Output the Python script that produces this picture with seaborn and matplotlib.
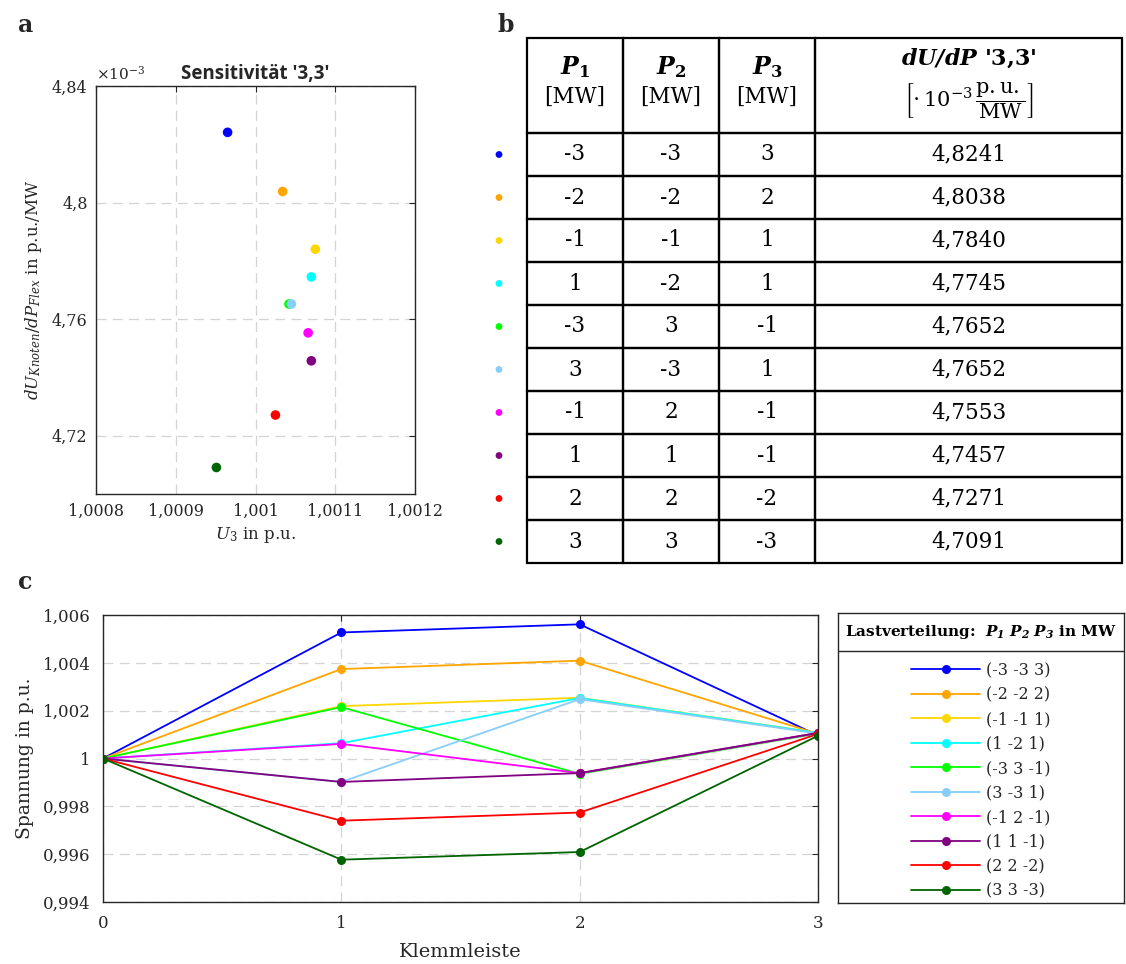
import numpy as np
import pandas as pd
import matplotlib
matplotlib.use("Agg")
import matplotlib.pyplot as plt
import seaborn as sns
from matplotlib.ticker import FuncFormatter, MultipleLocator, FixedLocator

# load cases P1 P2 P3 in MW
p1 = [-3, -2, -1, 1, -3, 3, -1, 1, 2, 3]
p2 = [-3, -2, -1, -2, 3, -3, 2, 1, 2, 3]
p3 = [3, 2, 1, 1, -1, 1, -1, -1, -2, -3]
# sensitivity '3,3' in 1e-3 p.u./MW
sens_33 = [4.8241, 4.8038, 4.7840, 4.7745, 4.7652, 4.7652, 4.7553, 4.7457, 4.7271, 4.7091]
colors = ['#0000ff', '#ffa500', '#ffd700', '#00ffff', '#00ff00',
          '#87cefa', '#ff00ff', '#800080', '#ff0000', '#006400']

# voltages per Klemmleiste 0..3 (p.u.)
klemmleiste = [0, 1, 2, 3]
u_k0 = [1.0, 1.0, 1.0, 1.0, 1.0, 1.0, 1.0, 1.0, 1.0, 1.0]
u_k1 = [1.00527, 1.00374, 1.00219, 1.00064, 1.00215, 0.99902, 1.00061, 0.99902, 0.99740, 0.99577]
u_k2 = [1.00561, 1.00409, 1.00254, 1.00253, 0.99936, 1.00248, 0.99939, 0.99939, 0.99774, 0.99609]
u_k3 = [1.000965, 1.001034, 1.001075, 1.00107, 1.001042, 1.001045, 1.001066, 1.00107, 1.001025, 1.000951]

labels = [f"({a} {b} {c})" for a, b, c in zip(p1, p2, p3)]

sns.set_theme(style="white")
plt.rcParams['font.family'] = ['DejaVu Serif']
plt.rcParams['mathtext.fontset'] = 'dejavuserif'
plt.rcParams['axes.edgecolor'] = '#262626'
plt.rcParams['axes.linewidth'] = 1.0
plt.rcParams['text.color'] = '#262626'
plt.rcParams['axes.labelcolor'] = '#262626'
plt.rcParams['xtick.color'] = '#262626'
plt.rcParams['ytick.color'] = '#262626'

W, H = 1126, 964
fig = plt.figure(figsize=(W / 100, H / 100), dpi=100)


def box(l, t, r, b):
    return [l / W, 1 - b / H, (r - l) / W, (b - t) / H]


def comma(v, pos=None):
    return f"{v:g}".replace('.', ',')


def style_axes(ax, fs, pad):
    ax.tick_params(direction='in', top=True, right=True, length=4, width=0.8,
                   labelsize=fs, pad=pad)
    ax.grid(True, ls=(0, (8, 5)), color='#d4d4d4', lw=0.9)
    ax.set_axisbelow(True)
    for s in ax.spines.values():
        s.set_visible(True)
        s.set_color('#262626')


# ---------------- panel a ----------------
axa = fig.add_axes(box(96, 86, 415, 494))
df_a = pd.DataFrame({'U3': u_k3, 'sens': sens_33, 'Fall': labels})
sns.scatterplot(data=df_a, x='U3', y='sens', hue='Fall', palette=colors, s=48,
                linewidth=0, legend=False, ax=axa, zorder=3)
axa.set_xlim(1.0008, 1.0012)
axa.set_ylim(4.70, 4.84)
axa.xaxis.set_major_locator(MultipleLocator(0.0001))
axa.yaxis.set_major_locator(FixedLocator([4.72, 4.76, 4.80, 4.84]))
axa.xaxis.set_major_formatter(FuncFormatter(comma))
axa.yaxis.set_major_formatter(FuncFormatter(comma))
style_axes(axa, 11.5, 6)
axa.set_xlabel(r"$U_{3}$ in p.u.", fontsize=12, labelpad=4)
axa.set_ylabel(r"$dU_{Knoten}/dP_{Flex}$ in p.u./MW", fontsize=12, labelpad=6)
axa.set_title("Sensitivität '3,3'", fontsize=13.5, fontweight='bold',
              family='Open Sans', pad=5, x=0.5)
axa.text(0.0, 1.008, r"$\times10^{-3}$", transform=axa.transAxes, ha='left',
         va='bottom', fontsize=11)
fig.text(18 / W, 1 - 25 / H, 'a', fontsize=17, fontweight='bold', ha='left', va='center')

# ---------------- panel b (table) ----------------
axt = fig.add_axes(box(527, 38, 1122, 563))
axt.axis('off')
cell_text = [[str(a), str(b), str(c), f"{s:.4f}".replace('.', ',')]
             for a, b, c, s in zip(p1, p2, p3, sens_33)]
col_w = [96, 96, 96, 307]
tab = axt.table(cellText=[[' '] * 4] + cell_text, cellLoc='center',
                colWidths=col_w, bbox=[0, 0, 1, 1])
tab.auto_set_font_size(False)
tab.set_fontsize(15.5)
for (r, c), cell in tab.get_celld().items():
    cell.set_linewidth(1.6)
    cell.set_edgecolor('black')
    cell.set_facecolor('none')
    cell.set_height(95 if r == 0 else 43)
    cell.get_text().set_color('black')

edges = np.concatenate([[0], np.cumsum(col_w)]) / sum(col_w)
centers = (edges[:-1] + edges[1:]) / 2
heads = [r"$\mathbfit{P}_{\mathbf{1}}$", r"$\mathbfit{P}_{\mathbf{2}}$", r"$\mathbfit{P}_{\mathbf{3}}$"]
for xc, h in zip(centers[:3], heads):
    axt.text(xc, 1 - 29 / 525, h, ha='center', va='center', fontsize=17,
             color='black', zorder=5, transform=axt.transAxes)
    axt.text(xc, 1 - 59 / 525, '[MW]', ha='center', va='center', fontsize=15.5,
             color='black', zorder=5, transform=axt.transAxes)
axt.text(centers[3], 1 - 20 / 525, r"$\mathbfit{dU/dP}$ '3,3'", ha='center', va='center',
         fontsize=16, fontweight='bold', color='black', zorder=5, transform=axt.transAxes)
axt.text(centers[3], 1 - 63 / 525, r"$\left[\cdot\,10^{-3}\,\dfrac{\mathrm{p.u.}}{\mathrm{MW}}\right]$",
         ha='center', va='center', fontsize=15, color='black', zorder=5,
         transform=axt.transAxes)
row_y = 1 - (95 + 43 * np.arange(len(sens_33)) + 21.5) / 525
axt.scatter(np.full(len(row_y), -28 / 595), row_y, c=colors, s=24, linewidths=0,
            transform=axt.transAxes, clip_on=False)
fig.text(497 / W, 1 - 25 / H, 'b', fontsize=17, fontweight='bold', ha='left', va='center')

# ---------------- panel c ----------------
axc = fig.add_axes(box(103, 615, 818, 902))
rows = []
for i, lab in enumerate(labels):
    for k, u in zip(klemmleiste, [u_k0[i], u_k1[i], u_k2[i], u_k3[i]]):
        rows.append({'Klemmleiste': k, 'U': u, 'Fall': lab})
df_c = pd.DataFrame(rows)
sns.lineplot(data=df_c, x='Klemmleiste', y='U', hue='Fall', palette=colors,
             marker='o', markersize=6.5, markeredgewidth=0, linewidth=1.3,
             estimator=None, sort=False, legend=False, ax=axc)
axc.set_xlim(0, 3)
axc.set_ylim(0.994, 1.006)
axc.xaxis.set_major_locator(FixedLocator(klemmleiste))
axc.yaxis.set_major_locator(MultipleLocator(0.002))
axc.yaxis.set_major_formatter(FuncFormatter(comma))
style_axes(axc, 12, 9)
axc.set_xlabel('Klemmleiste', fontsize=14, labelpad=8)
axc.set_ylabel('Spannung in p.u.', fontsize=13.5, labelpad=6)
fig.text(18 / W, 1 - 582 / H, 'c', fontsize=17, fontweight='bold', ha='left', va='center')

# legend box
lax = fig.add_axes(box(838, 613, 1124, 903))
lax.set_xticks([])
lax.set_yticks([])
for s in lax.spines.values():
    s.set_visible(True)
    s.set_color('#262626')
hdr = 1 - 38 / 290
lax.axhline(hdr, color='#262626', lw=1.0)
lax.set_xlim(0, 1)
lax.set_ylim(0, 1)
lax.text(0.5, (1 + hdr) / 2, r"Lastverteilung:  $\mathbfit{P}_{\mathbfit{1}}\ \mathbfit{P}_{\mathbfit{2}}\ \mathbfit{P}_{\mathbfit{3}}$ in MW",
         ha='center', va='center', fontsize=11, fontweight='bold', color='black')
handles = axc.lines[:len(labels)]
lax.legend(handles, labels, loc='upper center', bbox_to_anchor=(0.5, hdr + 0.012),
           frameon=False, fontsize=11.5, handlelength=4.3, labelspacing=0.47,
           handletextpad=0.4)

fig.savefig('out.png', dpi=100)
